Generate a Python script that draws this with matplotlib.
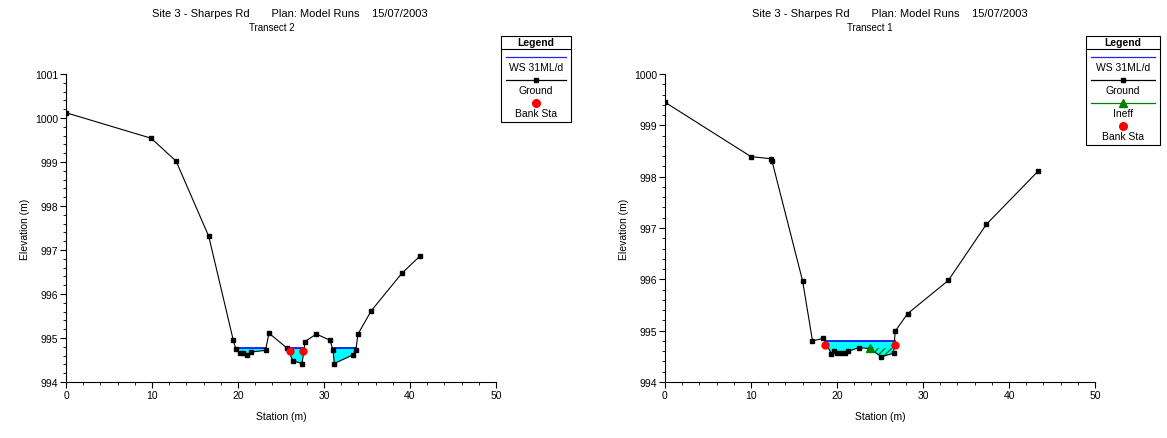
import numpy as np
import matplotlib
matplotlib.use("Agg")
import matplotlib.pyplot as plt
from matplotlib.lines import Line2D
from matplotlib.patches import Rectangle

plt.rcParams['font.family'] = ['Liberation Sans', 'DejaVu Sans']

# Transect 2 (left)
t2_station = [0, 9.9, 12.8, 16.6, 19.45, 19.76, 20.2, 20.6, 21.1, 21.5, 23.2, 23.6,
              25.7, 26.4, 27.45, 27.8, 29.1, 30.7, 31.05, 31.2, 33.4, 33.7, 33.95,
              35.5, 39.05, 41.2]
t2_elev = [1000.12, 999.54, 999.02, 997.31, 994.95, 994.74, 994.67, 994.65, 994.62, 994.68,
           994.72, 995.11, 994.77, 994.48, 994.42, 994.92, 995.09, 994.95, 994.72, 994.42,
           994.62, 994.72, 995.09, 995.62, 996.47, 996.87]
t2_ws = 994.77
t2_ws_extents = [(19.7, 23.25), (25.7, 27.7), (30.95, 33.75)]
t2_bank_sta = [26.0, 27.6]
t2_bank_elev = [994.70, 994.70]

# Transect 1 (right)
t1_station = [0, 10.0, 12.3, 12.45, 16.0, 17.15, 18.4, 19.35, 19.6, 20.0, 20.5, 20.9,
              21.3, 22.56, 23.84, 25.15, 26.57, 26.77, 28.2, 32.95, 37.36, 43.4]
t1_elev = [999.45, 998.39, 998.35, 998.30, 995.97, 994.80, 994.85, 994.55, 994.60, 994.57,
           994.57, 994.56, 994.60, 994.67, 994.65, 994.49, 994.56, 994.99, 995.33, 995.98,
           997.07, 998.11]
t1_ws = 994.80
t1_ws_extents = [(18.55, 26.7)]
t1_bank_sta = [18.66, 26.7]
t1_bank_elev = [994.73, 994.73]
t1_ineff_sta = [23.84]
t1_ineff_elev = [994.66]
t1_ineff_end = 26.7

W, H = 1167, 439
fig = plt.figure(figsize=(W / 100, H / 100), dpi=100)


def px(x, y):
    return x / W, 1 - y / H


def draw_section(ax, st, el, ws, extents, bank_sta, bank_elev, ylim, ineff=None):
    st = np.array(st)
    el = np.array(el)
    ax.fill_between(st, el, ws, where=el <= ws, interpolate=True,
                    color='#00ffff', linewidth=0, zorder=1)
    if ineff is not None:
        i_sta, i_elev, i_end = ineff
        mask = (st >= i_sta[0]) & (st <= i_end) & (el <= i_elev[0])
        ax.fill_between(st, el, i_elev[0], where=mask, interpolate=True,
                        facecolor='none', edgecolor='#008000', hatch='/////',
                        linewidth=0, zorder=2)
    for a, b in extents:
        ax.plot([a, b], [ws, ws], color='#0000ff', lw=1.2, zorder=3)
    ax.plot(st, el, color='black', lw=0.8, marker='s', ms=3.2, zorder=4)
    if ineff is not None:
        ax.plot(ineff[0], ineff[1], color='#008000', marker='^', ms=5.5,
                linestyle='none', zorder=5)
    ax.plot(bank_sta, bank_elev, color='red', marker='o', ms=5,
            linestyle='none', zorder=6)

    ax.set_xlim(0, 50)
    ax.set_ylim(*ylim)
    ax.set_xticks(np.arange(0, 51, 10))
    ax.set_xticks(np.arange(0, 51, 2), minor=True)
    ax.set_yticks(np.arange(ylim[0], ylim[1] + 1, 1))
    ax.set_yticks(np.arange(ylim[0], ylim[1] + 0.01, 0.2), minor=True)
    ax.spines['top'].set_visible(False)
    ax.spines['right'].set_visible(False)
    ax.tick_params(which='major', length=4, width=0.8, labelsize=7.5, pad=1.5)
    ax.tick_params(which='minor', length=2.5, width=0.6)
    ax.set_xlabel('Station (m)', fontsize=7.5, labelpad=8)
    ax.set_ylabel('Elevation (m)', fontsize=7.5, labelpad=4)
    ax.margins(0)


def draw_legend(x0, y0, w, entries):
    row = 23
    h = 13 + row * len(entries) + 4
    fx, fy = px(x0, y0 + h)
    fig.add_artist(Rectangle((fx, fy), w / W, h / H, transform=fig.transFigure,
                             facecolor='white', edgecolor='black', lw=0.8))
    hx, hy = px(x0 + w / 2, y0 + 6.5)
    fig.text(hx, hy, 'Legend', ha='center', va='center', fontsize=7.5, fontweight='bold')
    lx0, ly = px(x0, y0 + 13)
    lx1, _ = px(x0 + w, y0 + 13)
    fig.add_artist(Line2D([lx0, lx1], [ly, ly], transform=fig.transFigure,
                          color='black', lw=0.8))
    for i, (label, color, marker, line) in enumerate(entries):
        top = y0 + 13 + i * row
        sx0, sy = px(x0 + 5, top + 8)
        sx1, _ = px(x0 + w - 5, top + 8)
        mx, _ = px(x0 + w / 2, top + 8)
        if line:
            fig.add_artist(Line2D([sx0, sx1], [sy, sy], transform=fig.transFigure,
                                  color=color, lw=0.9))
        if marker:
            ms = 3.5 if marker == 's' else 5.5
            fig.add_artist(Line2D([mx], [sy], transform=fig.transFigure, color=color,
                                  marker=marker, ms=ms, linestyle='none'))
        tx, ty = px(x0 + w / 2, top + 18)
        fig.text(tx, ty, label, ha='center', va='center', fontsize=7.5)


def draw_title(cx, tx, transect):
    x, y = px(cx, 14)
    fig.text(x, y, 'Site 3 - Sharpes Rd       Plan: Model Runs    15/07/2003',
             ha='center', va='center', fontsize=8)
    x, y = px(tx, 28)
    fig.text(x, y, transect, ha='center', va='center', fontsize=7)


ax1 = fig.add_axes([66 / W, 1 - 383 / H, 430 / W, 308 / H])
draw_section(ax1, t2_station, t2_elev, t2_ws, t2_ws_extents, t2_bank_sta, t2_bank_elev,
             (994, 1001))
draw_title(290, 272, 'Transect 2')
draw_legend(501, 37, 70, [('WS 31ML/d', '#2020ff', None, True),
                          ('Ground', 'black', 's', True),
                          ('Bank Sta', 'red', 'o', False)])

ax2 = fig.add_axes([665 / W, 1 - 383 / H, 430 / W, 308 / H])
draw_section(ax2, t1_station, t1_elev, t1_ws, t1_ws_extents, t1_bank_sta, t1_bank_elev,
             (994, 1000), ineff=(t1_ineff_sta, t1_ineff_elev, t1_ineff_end))
draw_title(890, 870, 'Transect 1')
draw_legend(1086, 37, 74, [('WS 31ML/d', '#2020ff', None, True),
                           ('Ground', 'black', 's', True),
                           ('Ineff', '#008000', '^', True),
                           ('Bank Sta', 'red', 'o', False)])

fig.savefig('out.png', dpi=100)
